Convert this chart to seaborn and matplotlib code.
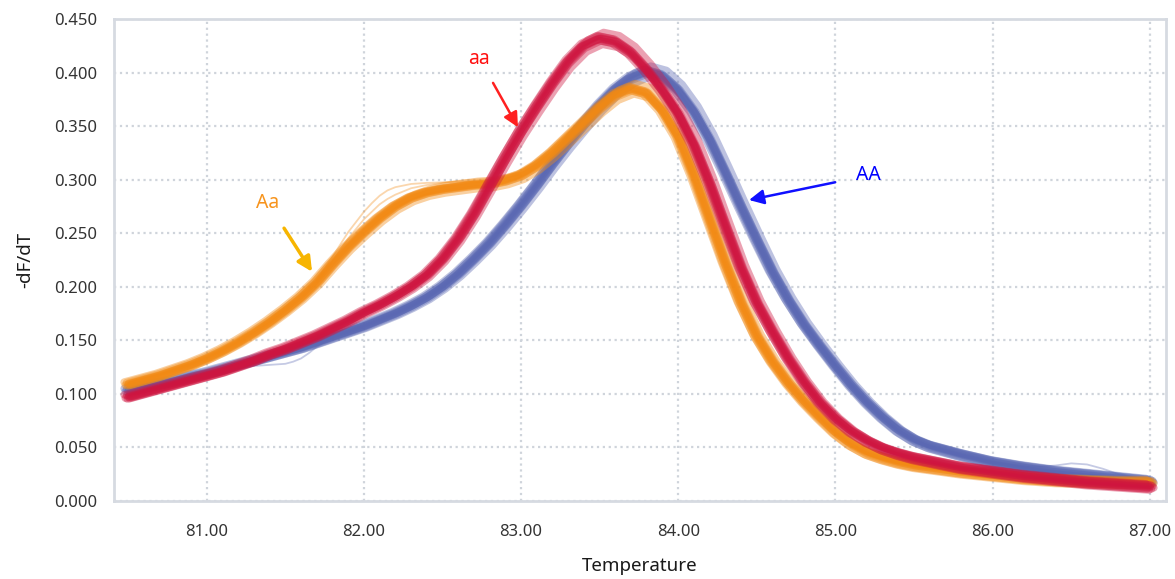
import pandas as pd
import seaborn as sns
import matplotlib.pyplot as plt
from matplotlib.ticker import MultipleLocator, FormatStrFormatter

# Temperatur-Raster der Schmelzkurven
temps = [80.5, 80.6, 80.7, 80.8, 80.9, 81.0, 81.1, 81.2, 81.3, 81.4,
         81.5, 81.6, 81.7, 81.8, 81.9, 82.0, 82.1, 82.2, 82.3, 82.4,
         82.5, 82.6, 82.7, 82.8, 82.9, 83.0, 83.1, 83.2, 83.3, 83.4,
         83.5, 83.6, 83.7, 83.8, 83.9, 84.0, 84.1, 84.2, 84.3, 84.4,
         84.5, 84.6, 84.7, 84.8, 84.9, 85.0, 85.1, 85.2, 85.3, 85.4,
         85.5, 85.6, 85.8, 86.0, 86.2, 86.4, 86.6, 86.8, 87.0]

# -dF/dT je Genotyp
aa_vals = [0.097, 0.101, 0.105, 0.109, 0.113, 0.117, 0.121, 0.126, 0.131, 0.137,
           0.142, 0.148, 0.154, 0.161, 0.168, 0.176, 0.183, 0.191, 0.200, 0.211,
           0.226, 0.245, 0.268, 0.294, 0.320, 0.345, 0.368, 0.390, 0.410, 0.425,
           0.432, 0.429, 0.419, 0.403, 0.384, 0.362, 0.333, 0.297, 0.257, 0.218,
           0.185, 0.158, 0.133, 0.111, 0.092, 0.077, 0.065, 0.056, 0.049, 0.044,
           0.040, 0.037, 0.031, 0.027, 0.023, 0.020, 0.017, 0.015, 0.013]

AA_vals = [0.103, 0.106, 0.109, 0.112, 0.116, 0.119, 0.123, 0.127, 0.131, 0.135,
           0.139, 0.143, 0.148, 0.153, 0.158, 0.163, 0.169, 0.175, 0.182, 0.190,
           0.200, 0.212, 0.226, 0.241, 0.258, 0.276, 0.295, 0.315, 0.334, 0.352,
           0.369, 0.384, 0.395, 0.401, 0.397, 0.384, 0.364, 0.338, 0.307, 0.275,
           0.244, 0.214, 0.188, 0.165, 0.145, 0.126, 0.108, 0.092, 0.078, 0.066,
           0.057, 0.051, 0.043, 0.036, 0.031, 0.027, 0.024, 0.021, 0.018]

Aa_vals = [0.109, 0.113, 0.117, 0.122, 0.127, 0.133, 0.140, 0.148, 0.157, 0.167,
           0.178, 0.190, 0.204, 0.221, 0.237, 0.251, 0.264, 0.275, 0.283, 0.288,
           0.291, 0.293, 0.295, 0.296, 0.299, 0.304, 0.313, 0.325, 0.339, 0.353,
           0.367, 0.379, 0.385, 0.381, 0.365, 0.340, 0.304, 0.263, 0.222, 0.185,
           0.154, 0.130, 0.110, 0.093, 0.078, 0.064, 0.053, 0.045, 0.040, 0.036,
           0.033, 0.031, 0.027, 0.024, 0.021, 0.019, 0.018, 0.017, 0.017]

# Ausreisser-Kurven (einzelne Replikate)
Aa_out_T = [81.7, 81.8, 81.9, 82.0, 82.05, 82.1, 82.15, 82.2, 82.3, 82.4, 82.6, 82.8, 83.0]
Aa_out_1 = [0.206, 0.228, 0.251, 0.270, 0.278, 0.285, 0.290, 0.293, 0.296, 0.297, 0.298, 0.298, 0.305]
Aa_out_2 = [0.204, 0.224, 0.245, 0.263, 0.270, 0.277, 0.282, 0.286, 0.292, 0.295, 0.299, 0.301, 0.307]
AA_out_T = [81.0, 81.1, 81.2, 81.3, 81.4, 81.5, 81.55, 81.6, 81.65, 81.7, 81.8]
AA_out_1 = [0.119, 0.122, 0.124, 0.126, 0.127, 0.128, 0.130, 0.133, 0.138, 0.144, 0.153]
AA_tail_T = [86.0, 86.2, 86.3, 86.4, 86.5, 86.6, 86.7, 86.8, 87.0]
AA_tail_1 = [0.036, 0.032, 0.032, 0.033, 0.035, 0.034, 0.030, 0.025, 0.019]

# Streuung der Replikate (von Hand geschaetzt)
shift_T = [-0.025, -0.018, -0.01, -0.005, 0.0, 0.005, 0.01, 0.018, 0.025]
shift_y = [0.003, -0.002, 0.002, -0.003, 0.0, 0.002, -0.002, 0.001, -0.001]
scale_y = [0.99, 1.01, 0.995, 1.012, 1.0, 0.99, 1.005, 0.985, 1.015]

genotypes = ['AA', 'Aa', 'aa']
curves = {'AA': AA_vals, 'Aa': Aa_vals, 'aa': aa_vals}
palette = {'AA': '#5a68b3', 'Aa': '#f28a14', 'aa': '#cf1540'}

rows = []
for g in genotypes:
    for r in range(len(shift_T)):
        for t, v in zip(temps, curves[g]):
            rows.append({'Genotype': g, 'Rep': r,
                         'Temperature': t + shift_T[r],
                         'dFdT': v * scale_y[r] + shift_y[r]})
df = pd.DataFrame(rows)

outliers = [('Aa', Aa_out_T, Aa_out_1), ('Aa', Aa_out_T, Aa_out_2),
            ('AA', AA_out_T, AA_out_1), ('AA', AA_tail_T, AA_tail_1)]

sns.set_style('white')
plt.rcParams['font.family'] = ['Noto Sans', 'DejaVu Sans']

fig = plt.figure(figsize=(11.75, 5.79), dpi=100)
ax = fig.add_axes([0.097, 0.135, 0.895, 0.832])

for g, tt, vv in outliers:
    sns.lineplot(x=tt, y=vv, color=palette[g], linewidth=1.3, alpha=0.35, ax=ax)

sns.lineplot(data=df, x='Temperature', y='dFdT', hue='Genotype', units='Rep',
             estimator=None, hue_order=genotypes, palette=palette, sort=False,
             linewidth=5.5, alpha=0.4, legend=False, ax=ax)

ax.set_xlim(80.41, 87.10)
ax.set_ylim(0, 0.45)
ax.xaxis.set_major_locator(MultipleLocator(1.0))
ax.xaxis.set_minor_locator(MultipleLocator(0.2))
ax.yaxis.set_major_locator(MultipleLocator(0.05))
ax.yaxis.set_minor_locator(MultipleLocator(0.01))
ax.xaxis.set_major_formatter(FormatStrFormatter('%.2f'))
ax.yaxis.set_major_formatter(FormatStrFormatter('%.3f'))
ax.set_xticks([81, 82, 83, 84, 85, 86, 87])

ax.grid(True, which='major', linestyle=':', color='#cfd4db', linewidth=1.6)
for s in ax.spines.values():
    s.set_color('#d6dae1')
    s.set_linewidth(2)
ax.tick_params(which='major', length=8, color='#d6dae1', width=1.2,
               labelsize=12, labelcolor='#333333')
ax.tick_params(axis='y', which='major', pad=4)
ax.tick_params(axis='x', which='major', pad=9)
ax.tick_params(which='minor', length=5, color='#c8cdd4', width=1)
ax.set_axisbelow(True)

ax.set_xlabel('Temperature', fontsize=13.5, color='#1a1a1a', labelpad=12)
ax.set_ylabel('-dF/dT', fontsize=13.5, color='#1a1a1a', labelpad=14)

# Beschriftungen mit Pfeilen
ax.annotate('aa', xy=(82.98, 0.349), xytext=(82.735, 0.413), color='#ff1010',
            fontsize=14, ha='center', va='center',
            arrowprops=dict(arrowstyle='-|>', color='#ff2020', lw=1.8,
                            mutation_scale=22, shrinkA=9, shrinkB=0))
ax.annotate('Aa', xy=(81.67, 0.214), xytext=(81.39, 0.278), color='#f7941d',
            fontsize=14, ha='center', va='center',
            arrowprops=dict(arrowstyle='-|>', color='#f7b500', lw=2.5,
                            mutation_scale=22, shrinkA=10, shrinkB=0))
ax.annotate('AA', xy=(84.45, 0.281), xytext=(85.21, 0.304), color='#0000ff',
            fontsize=14, ha='center', va='center',
            arrowprops=dict(arrowstyle='-|>', color='#1010ff', lw=1.8,
                            mutation_scale=22, shrinkA=13, shrinkB=0))

plt.savefig('out.png', dpi=100)
